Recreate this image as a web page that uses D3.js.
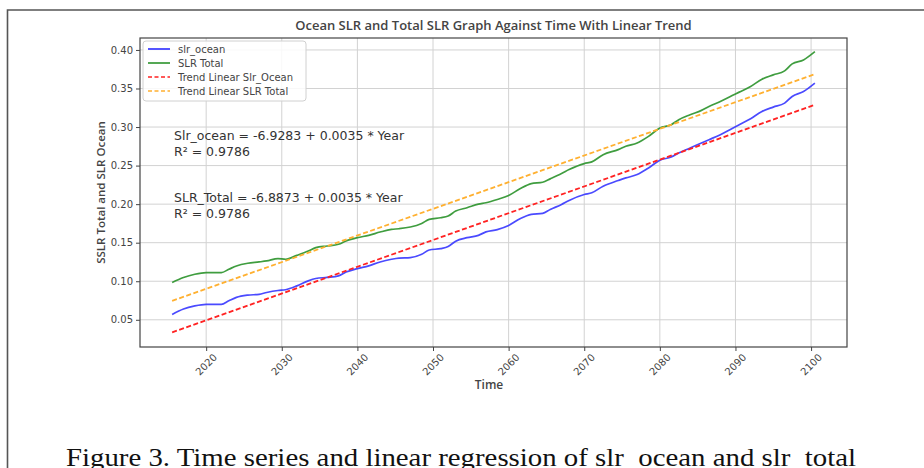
<!DOCTYPE html>
<html>
<head>
<meta charset="utf-8">
<script src="https://cdn.jsdelivr.net/npm/d3@7"></script>
<style>
  html, body { margin: 0; padding: 0; background: #fff; }
  svg { display: block; }
</style>
</head>
<body>
<svg id="chart" width="924" height="468"></svg>
<script>
// ---- data ----
const years = [2015.5, 2017, 2018.5, 2020, 2022, 2023, 2024, 2025.5, 2027, 2028, 2029.5, 2030.5, 2032, 2033.5, 2034.5, 2036, 2037.5, 2038.5, 2040, 2041.5, 2043, 2044.5, 2045.5, 2047, 2048.5, 2049.5, 2051, 2052, 2053, 2054.5, 2056, 2057, 2058.5, 2060, 2061.5, 2063, 2064.5, 2065.5, 2067, 2068, 2070, 2071, 2072.5, 2074.5, 2075.5, 2077, 2078.5, 2080, 2081.5, 2082.5, 2084, 2085.5, 2086.5, 2088, 2089.5, 2090.5, 2092, 2093.5, 2095, 2096.5, 2097.5, 2099, 2100.5];
const slrOcean = [0.057, 0.064, 0.068, 0.070, 0.070, 0.0746, 0.079, 0.082, 0.083, 0.0854, 0.088, 0.089, 0.094, 0.1005, 0.1035, 0.105, 0.107, 0.112, 0.1164, 0.120, 0.125, 0.1285, 0.130, 0.1306, 0.135, 0.1405, 0.1423, 0.145, 0.152, 0.1565, 0.1595, 0.164, 0.167, 0.1724, 0.181, 0.1867, 0.188, 0.193, 0.1996, 0.2048, 0.2125, 0.2147, 0.2233, 0.2306, 0.234, 0.2384, 0.247, 0.2569, 0.2612, 0.2664, 0.2729, 0.2793, 0.2836, 0.2901, 0.2979, 0.303, 0.3108, 0.3202, 0.3259, 0.331, 0.3397, 0.3461, 0.357];
const slrTotal = [0.0983, 0.1048, 0.1091, 0.1112, 0.1112, 0.1155, 0.1198, 0.1233, 0.125, 0.1263, 0.1293, 0.1285, 0.1336, 0.1392, 0.1436, 0.1457, 0.1479, 0.1522, 0.1565, 0.1595, 0.1638, 0.1673, 0.1681, 0.1703, 0.175, 0.1802, 0.1823, 0.1845, 0.191, 0.1953, 0.200, 0.2018, 0.206, 0.2112, 0.2199, 0.2267, 0.2284, 0.2328, 0.2397, 0.2448, 0.2526, 0.2548, 0.2642, 0.2707, 0.275, 0.2793, 0.2879, 0.2987, 0.303, 0.3095, 0.316, 0.3216, 0.3267, 0.3332, 0.3405, 0.3453, 0.3526, 0.3621, 0.3677, 0.3728, 0.3819, 0.3871, 0.3978];
const trendYears = [2015.5, 2100.5];
const trendOcean = [0.0337, 0.3289];
const trendTotal = [0.0746, 0.3686];
const xTicks = [2020, 2030, 2040, 2050, 2060, 2070, 2080, 2090, 2100];
const yTicks = [0.05, 0.10, 0.15, 0.20, 0.25, 0.30, 0.35, 0.40];
const legendLabels = ["slr_ocean", "SLR Total", "Trend Linear Slr_Ocean", "Trend Linear SLR Total"];
const equations = ["Slr_ocean = -6.9283 + 0.0035 * Year", "R\u00b2 = 0.9786", "SLR_Total = -6.8873 + 0.0035 * Year", "R\u00b2 = 0.9786"];
const titleText = "Ocean SLR and Total SLR Graph Against Time With Linear Trend";
const xLabel = "Time";
const yLabel = "SSLR Total and SLR Ocean";
const captionText = "Figure 3. Time series and linear regression of slr_ocean and slr_total";

// ---- layout ----
const L = 140, R = 847, T = 38, B = 347;
const svg = d3.select("#chart");
const x = d3.scaleLinear().domain([2011.25, 2104.75]).range([L, R]);
const y = d3.scaleLinear().domain([0.0147, 0.4155]).range([B, T]);

// page frame
svg.append("path").attr("d", "M924,10 H7.5 V468")
  .attr("fill", "none").attr("stroke", "#555").attr("stroke-width", 1.6);

// grid
const grid = svg.append("g").attr("stroke", "#d2d2d2").attr("stroke-width", 1);
grid.selectAll(".gx").data(xTicks).join("line")
  .attr("x1", d => x(d)).attr("x2", d => x(d)).attr("y1", T).attr("y2", B);
grid.selectAll(".gy").data(yTicks).join("line")
  .attr("x1", L).attr("x2", R).attr("y1", d => y(d)).attr("y2", d => y(d));

// lines
const line = (xs, ys) => d3.line().x((d, i) => x(xs[i])).y(d => y(d)).curve(d3.curveMonotoneX)(ys);
const plot = svg.append("g");
plot.append("path").attr("d", line(years, slrOcean)).attr("fill", "none")
  .attr("stroke", "#2a2aff").attr("stroke-width", 1.7).attr("stroke-opacity", 0.85);
plot.append("path").attr("d", line(years, slrTotal)).attr("fill", "none")
  .attr("stroke", "#2a922a").attr("stroke-width", 1.7).attr("stroke-opacity", 0.9);
plot.append("path").attr("d", line(trendYears, trendOcean)).attr("fill", "none")
  .attr("stroke", "#f22").attr("stroke-width", 1.8).attr("stroke-dasharray", "5,2.5");
plot.append("path").attr("d", line(trendYears, trendTotal)).attr("fill", "none")
  .attr("stroke", "#ffb030").attr("stroke-width", 1.8).attr("stroke-dasharray", "5,2.5");

// axes
const xAxis = svg.append("g").attr("transform", `translate(0,${B})`)
  .call(d3.axisBottom(x).tickValues(xTicks).tickFormat(d3.format("d")).tickSize(4).tickPadding(3));
xAxis.select(".domain").remove();
xAxis.selectAll(".tick line").attr("stroke", "#444");
xAxis.selectAll(".tick text")
  .attr("font-family", "DejaVu Sans").attr("font-size", 10).attr("fill", "#444")
  .attr("text-anchor", "middle").attr("dy", null).attr("y", null)
  .attr("transform", "translate(0,18) rotate(-45)").attr("dominant-baseline", "middle");

const yAxis = svg.append("g").attr("transform", `translate(${L},0)`)
  .call(d3.axisLeft(y).tickValues(yTicks).tickFormat(d3.format(".2f")).tickSize(4).tickPadding(3));
yAxis.select(".domain").remove();
yAxis.selectAll(".tick line").attr("stroke", "#444");
yAxis.selectAll(".tick text")
  .attr("font-family", "DejaVu Sans").attr("font-size", 10).attr("fill", "#444");

// spines
svg.append("rect").attr("x", L).attr("y", T).attr("width", R - L).attr("height", B - T)
  .attr("fill", "none").attr("stroke", "#444").attr("stroke-width", 1.2);

// legend
const lg = svg.append("g");
lg.append("rect").attr("x", 143).attr("y", 41).attr("width", 163).attr("height", 60).attr("rx", 3)
  .attr("fill", "#fff").attr("fill-opacity", 0.85).attr("stroke", "#d0d0d0");
const lgStyles = [
  { c: "#2a2aff", dash: null },
  { c: "#2a922a", dash: null },
  { c: "#f22", dash: "4,2.5" },
  { c: "#ffb030", dash: "4,2.5" }
];
legendLabels.forEach((t, i) => {
  const yy = 49 + i * 14;
  lg.append("line").attr("x1", 148).attr("x2", 170).attr("y1", yy).attr("y2", yy)
    .attr("stroke", lgStyles[i].c).attr("stroke-width", 1.6)
    .attr("stroke-dasharray", lgStyles[i].dash);
  lg.append("text").attr("x", 178).attr("y", yy + 3.5).text(t)
    .attr("font-family", "DejaVu Sans").attr("font-size", 10).attr("fill", "#444");
});

// equations
const eqY = [140, 156, 202, 218];
equations.forEach((t, i) => {
  svg.append("text").attr("x", 174).attr("y", eqY[i]).text(t)
    .attr("font-family", "DejaVu Sans").attr("font-size", 12.5).attr("fill", "#333");
});

// title & axis labels
svg.append("text").attr("x", (L + R) / 2).attr("y", 30).attr("text-anchor", "middle")
  .text(titleText).attr("font-family", "Open Sans").attr("font-weight", 600)
  .attr("font-size", 13).attr("fill", "#444");
svg.append("text").attr("x", 489).attr("y", 389).attr("text-anchor", "middle")
  .text(xLabel).attr("font-family", "Open Sans").attr("font-weight", 600)
  .attr("font-size", 12).attr("fill", "#444");
svg.append("text").attr("transform", `translate(105,${(T + B) / 2}) rotate(-90)`)
  .attr("text-anchor", "middle").text(yLabel)
  .attr("font-family", "Open Sans").attr("font-weight", 600)
  .attr("font-size", 11.5).attr("fill", "#444");

// caption
svg.append("text").attr("x", 66).attr("y", 466).text(captionText)
  .attr("font-family", "Liberation Serif").attr("font-size", 26).attr("fill", "#111")
  .attr("textLength", 790).attr("lengthAdjust", "spacingAndGlyphs");
</script>
</body>
</html>
